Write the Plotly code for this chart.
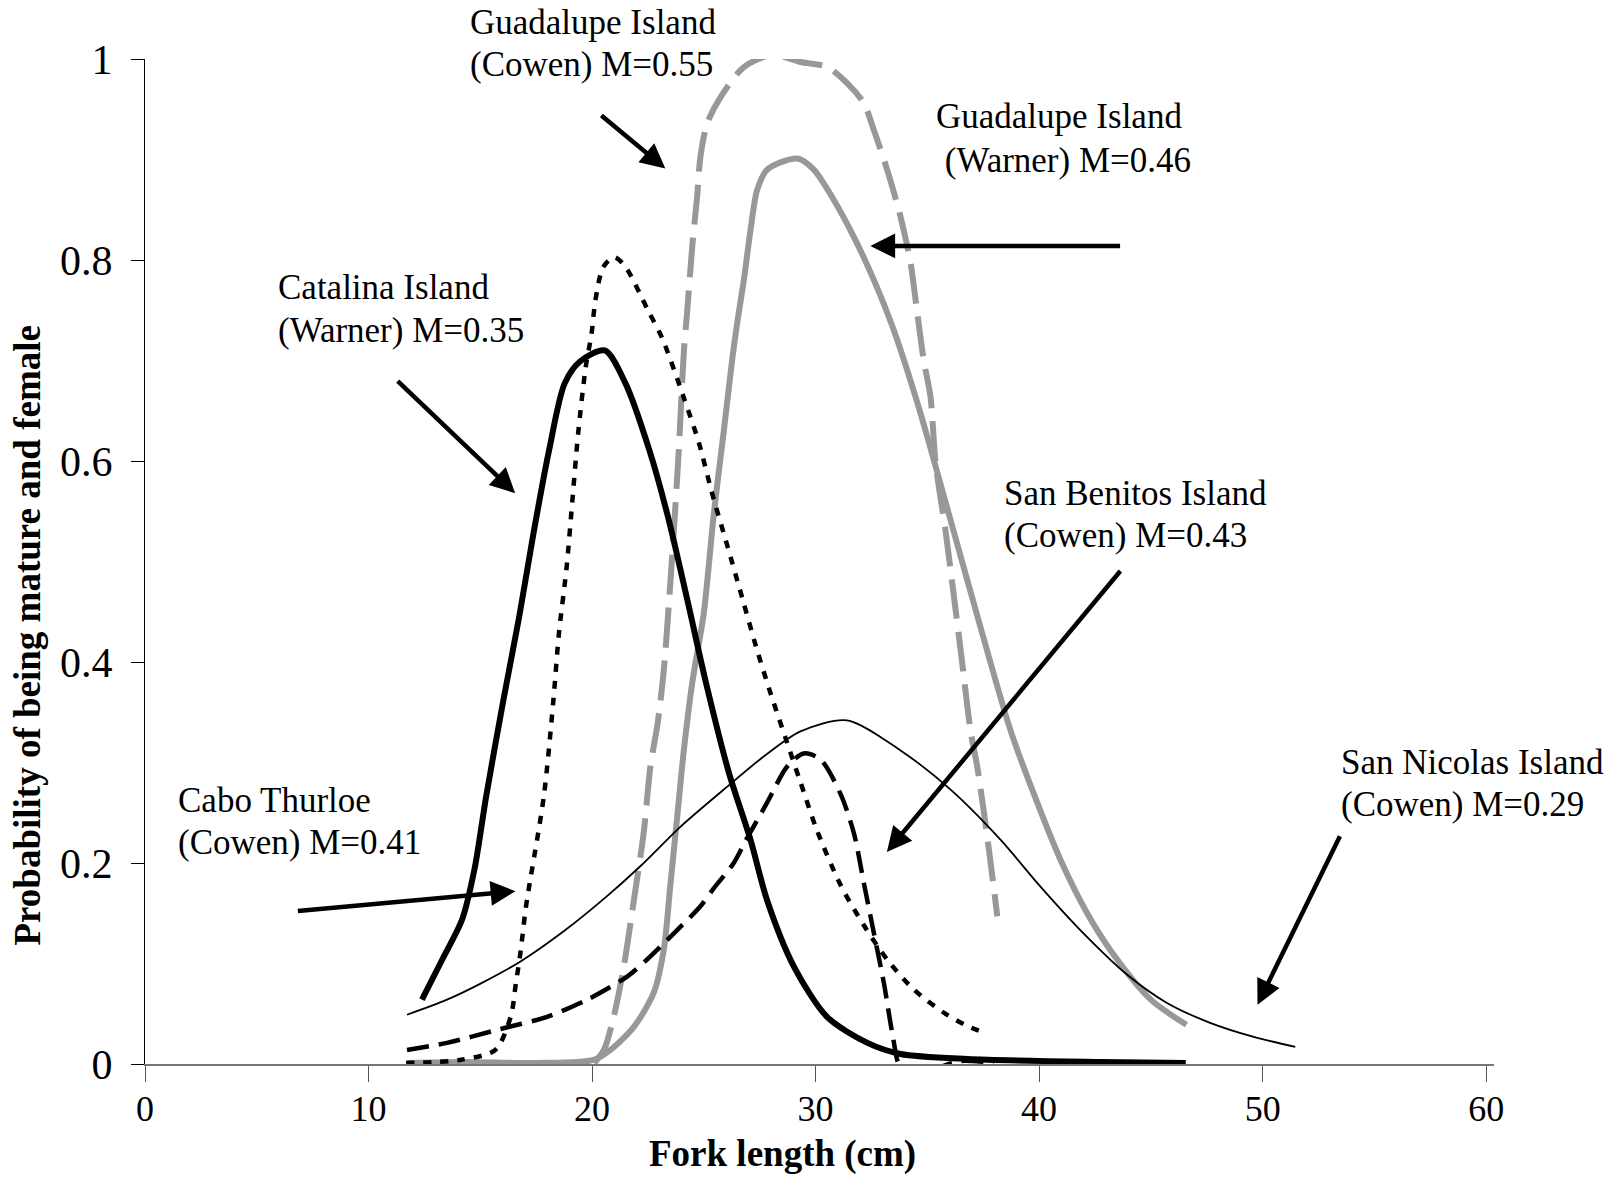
import plotly.graph_objects as go

# ---------------- data ----------------
catalina_x = [12.39, 13.3, 14.19, 14.75, 15.26, 16.04, 16.74, 17.38, 18.08, 18.77, 19.46, 20.57, 21.5, 22.56,
              23.39, 24.27, 25.1, 26.12, 27.09, 27.83, 29.03, 30.51, 32.32, 33.8, 36.8, 42.76, 46.56]
catalina_y = [0.064, 0.104, 0.144, 0.195, 0.266, 0.363, 0.445, 0.528, 0.611, 0.677, 0.699, 0.710, 0.677, 0.611,
              0.545, 0.461, 0.379, 0.290, 0.223, 0.163, 0.097, 0.047, 0.021, 0.010, 0.005, 0.002, 0.001]

cabo_x = [11.68, 14.07, 15.67, 16.36, 16.59, 16.81, 17.04, 17.84, 18.27, 18.52, 18.86, 19.12, 19.38, 19.72,
          19.98, 20.15, 20.5, 20.99, 21.5, 22.5, 23.14, 24.09, 24.78, 25.37, 26.06, 26.74, 27.34, 27.94,
          28.63, 29.33, 30.07, 31.12, 32.16, 33.2, 34.4, 35.74, 36.78, 37.68]
cabo_y = [0.001, 0.004, 0.014, 0.047, 0.080, 0.113, 0.156, 0.266, 0.362, 0.429, 0.494, 0.561, 0.628, 0.694,
          0.727, 0.760, 0.793, 0.803, 0.793, 0.750, 0.722, 0.664, 0.618, 0.568, 0.515, 0.462, 0.415, 0.372,
          0.326, 0.280, 0.232, 0.178, 0.138, 0.104, 0.074, 0.051, 0.038, 0.030]

guad_cowen_x = [20.1, 20.53, 20.97, 21.42, 21.87, 22.31, 22.61, 22.94, 23.21, 23.44, 23.66, 23.88, 24.11,
                24.25, 24.48, 24.7, 24.85, 25.15, 25.75, 26.79, 28.06, 29.32, 30.52, 31.41, 32.16, 32.61,
                33.2, 33.8, 34.25, 34.55, 34.84, 35.14, 35.37, 35.81, 36.19, 36.56, 36.93, 37.23, 37.68, 38.13]
guad_cowen_y = [0.001, 0.014, 0.047, 0.097, 0.163, 0.230, 0.296, 0.340, 0.392, 0.459, 0.531, 0.611, 0.710,
                0.747, 0.813, 0.863, 0.903, 0.936, 0.962, 0.992, 1.004, 0.997, 0.992, 0.976, 0.956, 0.929,
                0.890, 0.843, 0.797, 0.747, 0.700, 0.664, 0.598, 0.531, 0.465, 0.399, 0.332, 0.296, 0.226, 0.147]

guad_warner_x = [11.72, 14.33, 17.57, 20.07, 20.82, 21.87, 22.76, 23.21, 23.51, 23.81, 24.11, 24.48, 25.0,
                 25.45, 25.9, 26.27, 26.49, 26.79, 27.09, 27.39, 27.84, 29.18, 29.92, 30.81, 31.71, 32.61,
                 33.5, 34.7, 35.74, 36.78, 37.83, 38.72, 39.76, 40.96, 42.15, 43.23, 45.0, 46.59]
guad_warner_y = [0.001, 0.002, 0.001, 0.004, 0.014, 0.037, 0.071, 0.114, 0.180, 0.246, 0.313, 0.379, 0.449,
                 0.548, 0.631, 0.701, 0.737, 0.780, 0.830, 0.870, 0.890, 0.901, 0.890, 0.860, 0.823, 0.780,
                 0.730, 0.647, 0.565, 0.482, 0.399, 0.332, 0.269, 0.203, 0.150, 0.112, 0.064, 0.039]

benitos_x = [11.72, 13.51, 15.75, 17.99, 19.78, 21.57, 22.46, 23.66, 24.85, 25.45, 26.34, 26.94, 27.83,
             28.73, 29.47, 30.22, 31.11, 31.71, 32.16, 32.61, 33.06, 33.43, 33.8, 34.55, 35.59, 36.48, 37.98]
benitos_y = [0.014, 0.021, 0.034, 0.047, 0.064, 0.087, 0.104, 0.130, 0.157, 0.175, 0.200, 0.225, 0.260,
             0.296, 0.309, 0.303, 0.269, 0.230, 0.180, 0.130, 0.080, 0.031, -0.004, -0.013, -0.003, 0.003, 0.001]

nicolas_x = [11.72, 13.51, 15.01, 16.8, 18.73, 20.67, 22.17, 23.95, 26.05, 27.68, 29.32, 31.41, 33.8,
             36.04, 38.28, 40.04, 41.81, 43.93, 45.7, 47.65, 49.6, 51.46]
nicolas_y = [0.049, 0.064, 0.080, 0.102, 0.132, 0.167, 0.197, 0.236, 0.276, 0.306, 0.331, 0.342, 0.312,
             0.273, 0.223, 0.177, 0.134, 0.089, 0.061, 0.041, 0.027, 0.017]

x_ticks = [0, 10, 20, 30, 40, 50, 60]
y_ticks = [0, 0.2, 0.4, 0.6, 0.8, 1]
y_tick_text = ["0", "0.2", "0.4", "0.6", "0.8", "1"]

label_line1 = ["Guadalupe Island", "Guadalupe Island", "Catalina Island",
               "San Benitos Island", "Cabo Thurloe", "San Nicolas Island"]
label_line2 = ["(Cowen) M=0.55", " (Warner) M=0.46", "(Warner) M=0.35",
               "(Cowen) M=0.43", "(Cowen) M=0.41", "(Cowen) M=0.29"]
label_x = [14.45, 35.3, 5.88, 38.35, 1.38, 53.42]
label_y1 = [1.036, 0.9425, 0.773, 0.568, 0.262, 0.300]
label_y2 = [0.995, 0.8995, 0.730, 0.526, 0.220, 0.258]

# arrows: tail -> head (data coordinates)
arrow_tail_x = [20.35, 43.69, 11.24, 6.77, 43.69, 53.49]
arrow_tail_y = [0.945, 0.814, 0.681, 0.152, 0.492, 0.228]
arrow_head_x = [23.28, 32.45, 16.56, 16.57, 33.19, 49.77]
arrow_head_y = [0.891, 0.814, 0.568, 0.172, 0.211, 0.059]

GRAY = "rgb(152,152,152)"
SERIF = "Liberation Serif, Times New Roman, serif"

fig = go.Figure()

fig.add_trace(go.Scatter(x=guad_warner_x, y=guad_warner_y, mode="lines",
                         line=dict(color=GRAY, width=6, shape="spline", smoothing=0.8),
                         cliponaxis=False, name="Guadalupe Island (Warner)"))
fig.add_trace(go.Scatter(x=guad_cowen_x, y=guad_cowen_y, mode="lines",
                         line=dict(color=GRAY, width=6, dash="40px,13px", shape="spline", smoothing=0.8),
                         cliponaxis=False, name="Guadalupe Island (Cowen)"))
fig.add_trace(go.Scatter(x=nicolas_x, y=nicolas_y, mode="lines",
                         line=dict(color="black", width=1.8, shape="spline", smoothing=0.8),
                         cliponaxis=False, name="San Nicolas Island"))
fig.add_trace(go.Scatter(x=benitos_x, y=benitos_y, mode="lines",
                         line=dict(color="black", width=4.5, dash="22px,10px", shape="spline", smoothing=0.8),
                         cliponaxis=False, name="San Benitos Island"))
fig.add_trace(go.Scatter(x=cabo_x, y=cabo_y, mode="lines",
                         line=dict(color="black", width=4.5, dash="8px,9px", shape="spline", smoothing=0.8),
                         cliponaxis=False, name="Cabo Thurloe"))
fig.add_trace(go.Scatter(x=catalina_x, y=catalina_y, mode="lines",
                         line=dict(color="black", width=6, shape="spline", smoothing=0.8),
                         cliponaxis=False, name="Catalina Island"))

annotations = []
for t1, t2, lx, y1, y2 in zip(label_line1, label_line2, label_x, label_y1, label_y2):
    for t, ly in ((t1, y1), (t2, y2)):
        annotations.append(dict(x=lx, y=ly, xref="x", yref="paper", text=t, showarrow=False,
                                xanchor="left", yanchor="middle", align="left",
                                font=dict(family=SERIF, size=35, color="black")))
for tx, ty, hx, hy in zip(arrow_tail_x, arrow_tail_y, arrow_head_x, arrow_head_y):
    annotations.append(dict(x=hx, y=hy, xref="x", yref="y", ax=tx, ay=ty, axref="x", ayref="y",
                            text="", showarrow=True, arrowhead=2, arrowsize=1.1, arrowwidth=4.5,
                            arrowcolor="black", standoff=0, startstandoff=0))

# axis titles
annotations.append(dict(x=28.5, y=-0.09, xref="x", yref="paper", text="<b>Fork length (cm)</b>",
                        showarrow=False, xanchor="center", yanchor="middle",
                        font=dict(family=SERIF, size=37, color="black")))
annotations.append(dict(x=-0.087, y=0.426, xref="paper", yref="paper",
                        text="<b>Probability of being mature and female</b>", textangle=-90,
                        showarrow=False, xanchor="center", yanchor="middle",
                        font=dict(family=SERIF, size=37, color="black")))

fig.update_layout(
    width=1620, height=1178,
    margin=dict(l=145, r=126, t=59, b=114),
    paper_bgcolor="white", plot_bgcolor="white",
    showlegend=False,
    annotations=annotations,
    xaxis=dict(range=[0, 60.35], tickvals=x_ticks, ticks="outside", ticklen=16, tickwidth=1.3,
               tickcolor="#555", showline=True, linecolor="#777", linewidth=1.6, showgrid=False,
               zeroline=False, tickfont=dict(family=SERIF, size=36, color="black"),
               ticklabelstandoff=-4),
    yaxis=dict(range=[0, 1], tickvals=y_ticks, ticktext=y_tick_text, ticks="outside", ticklen=13,
               tickwidth=1.3, tickcolor="black", showline=True, linecolor="black", linewidth=1.3,
               showgrid=False, zeroline=False, tickfont=dict(family=SERIF, size=42, color="black"),
               ticklabelstandoff=10),
)

fig.write_html("out.html", config={"displayModeBar": False},
               post_script="document.body.style.margin='0';")
